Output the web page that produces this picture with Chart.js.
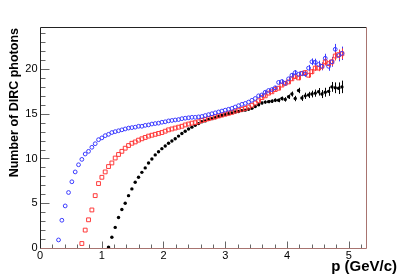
<!DOCTYPE html>
<html>
<head>
<meta charset="utf-8">
<script src="https://cdn.jsdelivr.net/npm/chart.js@4"></script>
<style>
  html, body { margin: 0; padding: 0; background: #fff; }
  canvas { display: block; }
</style>
</head>
<body>
<canvas id="myChart" width="407" height="276"></canvas>
<script>
// momentum bins (GeV/c)
const p = [0.300, 0.354, 0.408, 0.462, 0.516, 0.570, 0.624, 0.678, 0.732, 0.786,
           0.840, 0.894, 0.948, 1.002, 1.056, 1.110, 1.164, 1.218, 1.272, 1.326,
           1.380, 1.434, 1.488, 1.542, 1.596, 1.650, 1.704, 1.758, 1.812, 1.866,
           1.920, 1.974, 2.028, 2.082, 2.136, 2.190, 2.244, 2.298, 2.352, 2.406,
           2.460, 2.514, 2.568, 2.622, 2.676, 2.730, 2.784, 2.838, 2.892, 2.946,
           3.000, 3.054, 3.108, 3.162, 3.216, 3.270, 3.324, 3.378, 3.432, 3.486,
           3.540, 3.594, 3.648, 3.702, 3.756, 3.810, 3.864, 3.918, 3.972, 4.026,
           4.080, 4.134, 4.188, 4.242, 4.296, 4.350, 4.404, 4.458, 4.512, 4.566,
           4.620, 4.674, 4.728, 4.782, 4.836, 4.890];

const bluePhotons = [0.9, 3.1, 4.7, 6.2, 7.4, 8.5, 9.3, 9.9, 10.5, 10.8,
  11.25, 11.65, 12.1, 12.3, 12.55, 12.7, 12.9, 13.0, 13.1, 13.2,
  13.3, 13.4, 13.45, 13.5, 13.6, 13.6, 13.7, 13.75, 13.85, 13.9,
  13.95, 14.05, 14.1, 14.2, 14.25, 14.3, 14.35, 14.45, 14.5, 14.55,
  14.6, 14.6, 14.65, 14.7, 14.8, 14.9, 15.0, 15.1, 15.2, 15.3,
  15.4, 15.5, 15.6, 15.75, 15.9, 16.05, 16.15, 16.3, 16.5, 16.7,
  17.0, 17.1, 17.4, 17.6, 17.7, 17.9, 18.5, 18.6, 18.4, 18.9,
  19.3, 19.6, 19.4, 19.5, 19.45, 20.1, 20.8, 20.75, 20.5, 20.3,
  21.2, 20.3, 20.8, 22.2, 21.5, 21.75];

const redPhotons = [null, null, null, null, null, null, null,
  0.5, 2.0, 3.15, 4.25, 5.85, 7.2, 7.9, 8.5, 9.1, 9.5,
  10.05, 10.45, 10.8, 11.15, 11.45, 11.7, 11.85, 12.05, 12.2, 12.35,
  12.5, 12.6, 12.7, 12.8, 12.9, 13.05, 13.2, 13.3, 13.4, 13.5,
  13.6, 13.75, 13.85, 13.95, 14.0, 14.1, 14.25, 14.35, 14.45, 14.55,
  14.65, 14.75, 14.85, 14.95, 15.05, 15.15, 15.3, 15.4, 15.5, 15.6,
  15.75, 15.95, 16.2, 16.45, 16.8, 17.0, 17.3, 17.45, 17.7, 17.85,
  18.2, 18.4, 18.55, 18.9, 19.15, 19.0, 19.5, 19.6, 19.3, 19.7,
  20.1, 20.1, 20.3, 20.8, 20.6, 20.8, 21.45, 21.6, 21.7];

const blackPhotons = [null, null, null, null, null, null, null, null, null, null,
  null, null, null, null, null,
  0.1, 1.2, 2.3, 3.4, 4.3,
  5.0, 5.85, 6.6, 7.35, 7.9, 8.45, 8.95, 9.5, 9.95, 10.4,
  10.75, 11.1, 11.4, 11.7, 11.95, 12.2, 12.5, 12.8, 13.05, 13.3,
  13.5, 13.7, 13.9, 14.1, 14.2, 14.35, 14.45, 14.55, 14.7, 14.8,
  14.9, 15.0, 15.1, 15.2, 15.25, 15.35, 15.4, 15.5, 15.6, 15.8,
  16.0, 16.2, 16.3, 16.35, 16.4, 16.5, 16.5, 16.7, 16.6, 16.9,
  17.2, 16.7, 17.6, 16.75, 17.0, 17.1, 17.2, 17.3, 17.45, 17.2,
  17.4, 17.5, 18.0, 17.9, 17.85, 18.0];

// errors for the high-momentum tail, starting at bin errStart
const errStart = 60;
const blueErr = [0.15, 0.15, 0.18, 0.18, 0.2, 0.2, 0.22, 0.22, 0.25, 0.25, 0.27, 0.28, 0.3,
  0.3, 0.32, 0.35, 0.38, 0.4, 0.42, 0.45, 0.5, 0.5, 0.55, 0.6, 0.65, 0.75];
const redErr = [0.12, 0.12, 0.14, 0.14, 0.16, 0.16, 0.18, 0.18, 0.2, 0.2, 0.22, 0.22, 0.25,
  0.25, 0.27, 0.3, 0.3, 0.32, 0.35, 0.38, 0.4, 0.42, 0.45, 0.5, 0.55, 0.6];
const blackErr = [0.15, 0.15, 0.17, 0.17, 0.2, 0.2, 0.22, 0.22, 0.25, 0.25, 0.28, 0.3, 0.3,
  0.32, 0.35, 0.35, 0.38, 0.4, 0.42, 0.45, 0.5, 0.5, 0.55, 0.6, 0.65, 0.7];

const xTicks = [0, 1, 2, 3, 4, 5];
const yTicks = [0, 5, 10, 15, 20];

function toPoints(vals, errs) {
  const out = [];
  vals.forEach((v, i) => {
    if (v === null) return;
    const e = i >= errStart ? errs[i - errStart] : 0;
    out.push({ x: p[i], y: v, err: e });
  });
  return out;
}

const frameAndErrors = {
  id: 'frameAndErrors',
  beforeDatasetsDraw(chart) {
    const ctx = chart.ctx;
    const xs = chart.scales.x, ys = chart.scales.y;
    ctx.save();
    ctx.lineWidth = 1;
    chart.data.datasets.forEach(ds => {
      ctx.strokeStyle = ds.borderColor;
      ds.data.forEach(pt => {
        if (!pt.err) return;
        const px = Math.round(xs.getPixelForValue(pt.x)) + 0.5;
        ctx.beginPath();
        ctx.moveTo(px, ys.getPixelForValue(pt.y - pt.err));
        ctx.lineTo(px, ys.getPixelForValue(pt.y + pt.err));
        ctx.stroke();
      });
    });
    ctx.restore();
  },
  afterDraw(chart) {
    const ctx = chart.ctx;
    const a = chart.chartArea;
    const xs = chart.scales.x, ys = chart.scales.y;
    ctx.save();
    ctx.lineWidth = 1;
    const L = Math.round(a.left) + 0.5, R = Math.round(a.right) + 0.5;
    const T = Math.round(a.top) + 0.5, B = Math.round(a.bottom) + 0.5;

    // ticks
    ctx.strokeStyle = '#666';
    for (let v = 0; v <= 24.6; v += 1) {
      const y = Math.round(ys.getPixelForValue(v)) + 0.5;
      const len = v % 5 === 0 ? 9 : 5;
      ctx.beginPath(); ctx.moveTo(L, y); ctx.lineTo(L + len, y); ctx.stroke();
    }
    for (let k = 0; k <= 26; k++) {
      const v = k * 0.2;
      const x = Math.round(xs.getPixelForValue(v)) + 0.5;
      const len = k % 5 === 0 ? 7 : 4;
      ctx.beginPath(); ctx.moveTo(x, B); ctx.lineTo(x, B - len); ctx.stroke();
    }

    // frame
    ctx.strokeStyle = '#222';
    ctx.beginPath(); ctx.moveTo(L, B); ctx.lineTo(L, T); ctx.lineTo(R, T); ctx.stroke();
    ctx.strokeStyle = '#a87470';
    ctx.beginPath(); ctx.moveTo(R, T); ctx.lineTo(R, B); ctx.lineTo(L, B); ctx.stroke();

    // tick labels
    ctx.fillStyle = '#000';
    ctx.font = '11px "Liberation Sans", Arial, sans-serif';
    ctx.textAlign = 'right';
    ctx.textBaseline = 'middle';
    yTicks.forEach(v => ctx.fillText(String(v), L - 3, ys.getPixelForValue(v)));
    ctx.textAlign = 'center';
    ctx.textBaseline = 'top';
    xTicks.forEach(v => ctx.fillText(String(v), xs.getPixelForValue(v), B + 2));

    // titles
    ctx.textAlign = 'right';
    ctx.textBaseline = 'middle';
    ctx.font = 'bold 15px "Liberation Sans", Arial, sans-serif';
    ctx.fillText('p (GeV/c)', 397, 267);
    ctx.font = 'bold 12.5px "Liberation Sans", Arial, sans-serif';
    ctx.translate(15, 28);
    ctx.rotate(-Math.PI / 2);
    ctx.fillText('Number of DIRC photons', 0, 0);
    ctx.restore();
  }
};

const ctx = document.getElementById('myChart').getContext('2d');
const chart = new Chart(ctx, {
  type: 'scatter',
  data: {
    datasets: [
      {
        label: 'blue',
        data: toPoints(bluePhotons, blueErr),
        pointStyle: 'circle',
        pointRadius: 1.9,
        borderWidth: 1,
        borderColor: '#3a3aff',
        backgroundColor: 'rgba(0,0,0,0)'
      },
      {
        label: 'red',
        data: toPoints(redPhotons, redErr),
        pointStyle: 'rect',
        pointRadius: 2.7,
        borderWidth: 1,
        borderColor: '#ff3a3a',
        backgroundColor: 'rgba(0,0,0,0)'
      },
      {
        label: 'black',
        data: toPoints(blackPhotons, blackErr),
        pointStyle: 'circle',
        pointRadius: 1.7,
        borderWidth: 0,
        borderColor: '#000',
        backgroundColor: '#000'
      }
    ]
  },
  options: {
    responsive: false,
    animation: false,
    devicePixelRatio: 1,
    layout: { padding: { left: 40, right: 41, top: 27, bottom: 28 } },
    plugins: { legend: { display: false }, tooltip: { enabled: false } },
    scales: {
      x: { type: 'linear', min: 0, max: 5.28, display: false },
      y: { type: 'linear', min: 0, max: 24.69, display: false }
    }
  },
  plugins: [frameAndErrors]
});
</script>
</body>
</html>
